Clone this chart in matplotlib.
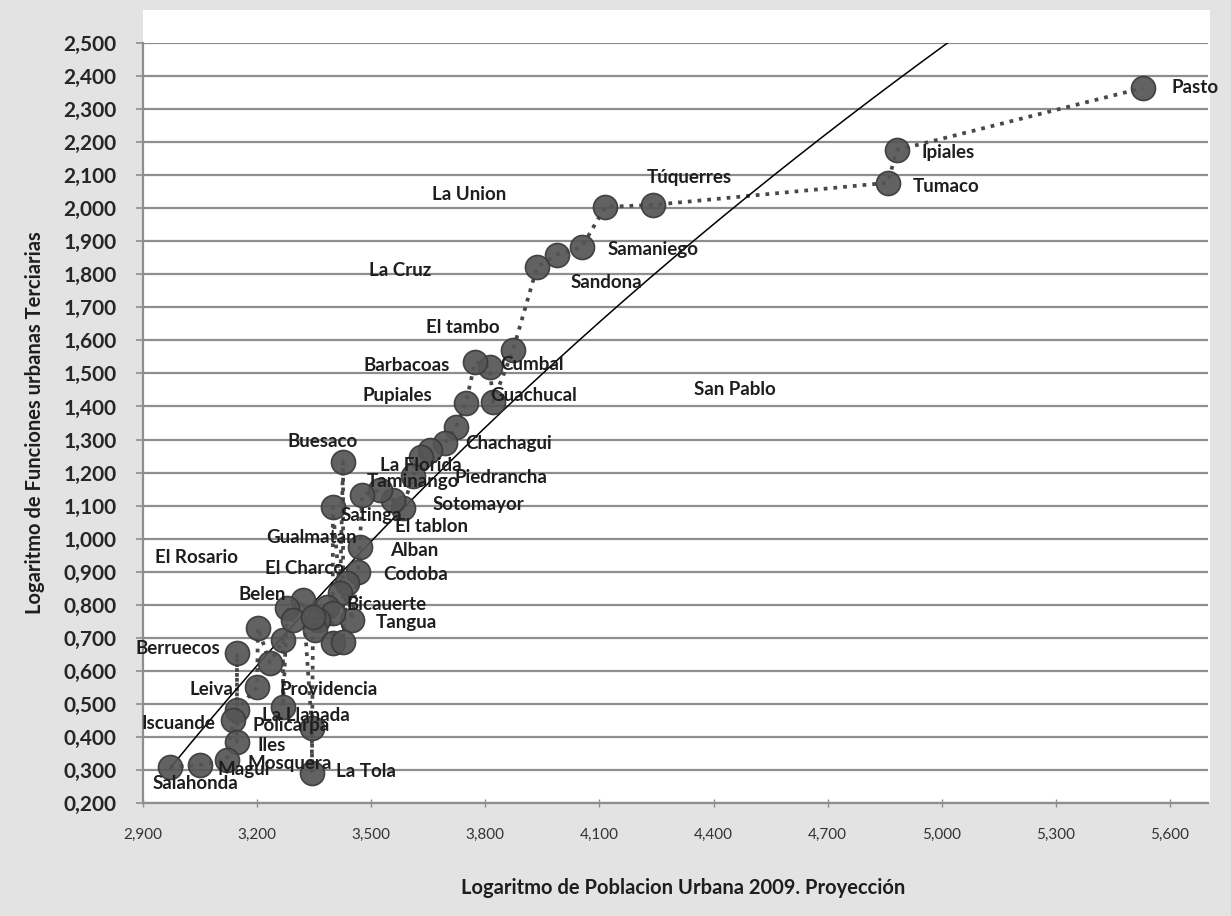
import numpy as np
import matplotlib
matplotlib.use("Agg")
import matplotlib.pyplot as plt
from matplotlib.patches import Rectangle
from matplotlib.ticker import FuncFormatter

# Log of urban population 2009 (x) vs log of tertiary urban functions (y)
pop_log = [5.529, 4.882, 4.858, 4.241, 4.115, 4.054, 3.988, 3.936, 3.873, 3.812,
           3.773, 3.820, 3.749, 3.723, 3.694, 3.654, 3.630, 3.426, 3.610, 3.583,
           3.557, 3.523, 3.476, 3.399, 3.470, 3.465, 3.436, 3.418, 3.384, 3.449,
           3.399, 3.360, 3.352, 3.399, 3.426, 3.321, 3.279, 3.202, 3.268, 3.147,
           3.234, 3.200, 3.268, 3.344, 3.147, 3.137, 3.147, 3.121, 3.050, 2.971,
           3.344, 3.294, 3.347]
func_log = [2.364, 2.176, 2.077, 2.010, 2.004, 1.883, 1.859, 1.822, 1.571, 1.520,
            1.535, 1.414, 1.411, 1.338, 1.290, 1.268, 1.247, 1.232, 1.190, 1.093,
            1.117, 1.147, 1.132, 1.096, 0.975, 0.899, 0.866, 0.836, 0.793, 0.754,
            0.775, 0.754, 0.724, 0.684, 0.687, 0.814, 0.790, 0.730, 0.693, 0.654,
            0.624, 0.551, 0.491, 0.427, 0.481, 0.451, 0.385, 0.330, 0.315, 0.309,
            0.291, 0.754, 0.763]

# municipality labels as they sit on the chart (data coords of left/centre edge)
names = ["Pasto", "Ipiales", "Tumaco", "Túquerres", "La Union", "Samaniego",
         "Sandona", "La Cruz", "El tambo", "Barbacoas", "Cumbal", "Pupiales",
         "Guachucal", "San Pablo", "Chachagui", "Buesaco", "La Florida",
         "Piedrancha", "Taminango", "Sotomayor", "Satinga", "El tablon",
         "Gualmatan", "Alban", "El Rosario", "El Charco", "Codoba", "Belen",
         "Bicauerte", "Tangua", "Berruecos", "Leiva", "Providencia",
         "La Llanada", "Iscuande", "Policarpa", "Iles", "Mosquera", "Magui",
         "La Tola", "Salahonda"]
name_x = [5.605, 4.948, 4.924, 4.225, 3.660, 4.122, 4.025, 3.494, 3.644, 3.481,
          3.838, 3.476, 3.812, 4.348, 3.746, 3.279, 3.523, 3.720, 3.489, 3.660,
          3.420, 3.562, 3.223, 3.549, 2.932, 3.221, 3.531, 3.152, 3.436, 3.513,
          2.879, 3.021, 3.258, 3.213, 2.895, 3.187, 3.202, 3.176, 3.097, 3.407,
          2.924]
name_y = [2.364, 2.170, 2.067, 2.092, 2.043, 1.874, 1.774, 1.810, 1.638, 1.523,
          1.526, 1.432, 1.432, 1.450, 1.287, 1.293, 1.220, 1.184, 1.172, 1.102,
          1.069, 1.038, 1.002, 0.963, 0.942, 0.911, 0.890, 0.830, 0.802, 0.745,
          0.669, 0.542, 0.542, 0.466, 0.442, 0.436, 0.373, 0.321, 0.300, 0.294,
          0.258]

W, H = 1231, 916
fig = plt.figure(figsize=(W / 100, H / 100), dpi=100, facecolor="#e3e3e3")

# white plot area (Excel style, a bit taller than the axes)
fig.add_artist(Rectangle((143 / W, 1 - 803 / H), (1210 - 143) / W, (803 - 10) / H,
                         transform=fig.transFigure, facecolor="white",
                         edgecolor="none", zorder=0))

ax = fig.add_axes([143 / W, 1 - 803 / H, (1208 - 143) / W, (803 - 43) / H])
ax.set_facecolor("white")
ax.set_xlim(2.9, 5.7)
ax.set_ylim(0.2, 2.5)

font_main = ["Lato", "DejaVu Sans"]

ax.set_yticks(np.round(np.arange(0.2, 2.501, 0.1), 1))
ax.set_xticks(np.round(np.arange(2.9, 5.61, 0.3), 1))
fmt = FuncFormatter(lambda v, p: f"{v:,.3f}".replace(".", ","))
ax.xaxis.set_major_formatter(fmt)
ax.yaxis.set_major_formatter(fmt)
ax.grid(axis="y", color="#8e8e8e", lw=1.6)
ax.set_axisbelow(True)
for s in ["top", "right"]:
    ax.spines[s].set_visible(False)
for s in ["left", "bottom"]:
    ax.spines[s].set_color("#8e8e8e")
    ax.spines[s].set_linewidth(1.6)
ax.tick_params(axis="y", length=5, width=1.2, color="#8e8e8e", pad=14,
               labelsize=15, labelcolor="#262626")
ax.tick_params(axis="x", direction="inout", length=6, width=1, color="#8e8e8e",
               pad=15, labelsize=11, labelcolor="#333333")
for lab in ax.get_yticklabels():
    lab.set_fontweight("bold")
    lab.set_family(font_main)
for lab in ax.get_xticklabels():
    lab.set_family(font_main)

# logarithmic trend line fitted to the points
xs = np.array(pop_log)
ys = np.array(func_log)
a, b = np.polyfit(np.log(xs), ys, 1)
xt = np.linspace(xs.min(), xs.max(), 200)
ax.plot(xt, a * np.log(xt) + b, color="black", lw=1.1, zorder=3)

# dotted series line through the points in x order
order = np.argsort(xs)
ax.plot(xs[order], ys[order], ls=(0, (1, 1.6)), color="#484848", lw=2.7, zorder=2)
ax.scatter(xs, ys, s=300, facecolor="#555555", edgecolor="#3a3a3a", lw=1.2,
           alpha=0.92, zorder=4)

for n, lx, ly in zip(names, name_x, name_y):
    ax.text(lx, ly, n, ha="left", va="center", fontsize=13.5, fontweight="bold",
            family=font_main, color="#1e1e1e", zorder=5, clip_on=False)

fig.text(35 / W, 1 - 423 / H, "Logaritmo de Funciones urbanas Terciarias",
         rotation=90, ha="center", va="center", fontsize=14.5, fontweight="bold",
         family=font_main, color="#1e1e1e")
fig.text(683 / W, 1 - 888 / H, "Logaritmo de Poblacion Urbana 2009. Proyección",
         ha="center", va="center", fontsize=14.5, fontweight="bold",
         family=font_main, color="#1e1e1e")

fig.savefig("out.png", dpi=100, facecolor=fig.get_facecolor())
